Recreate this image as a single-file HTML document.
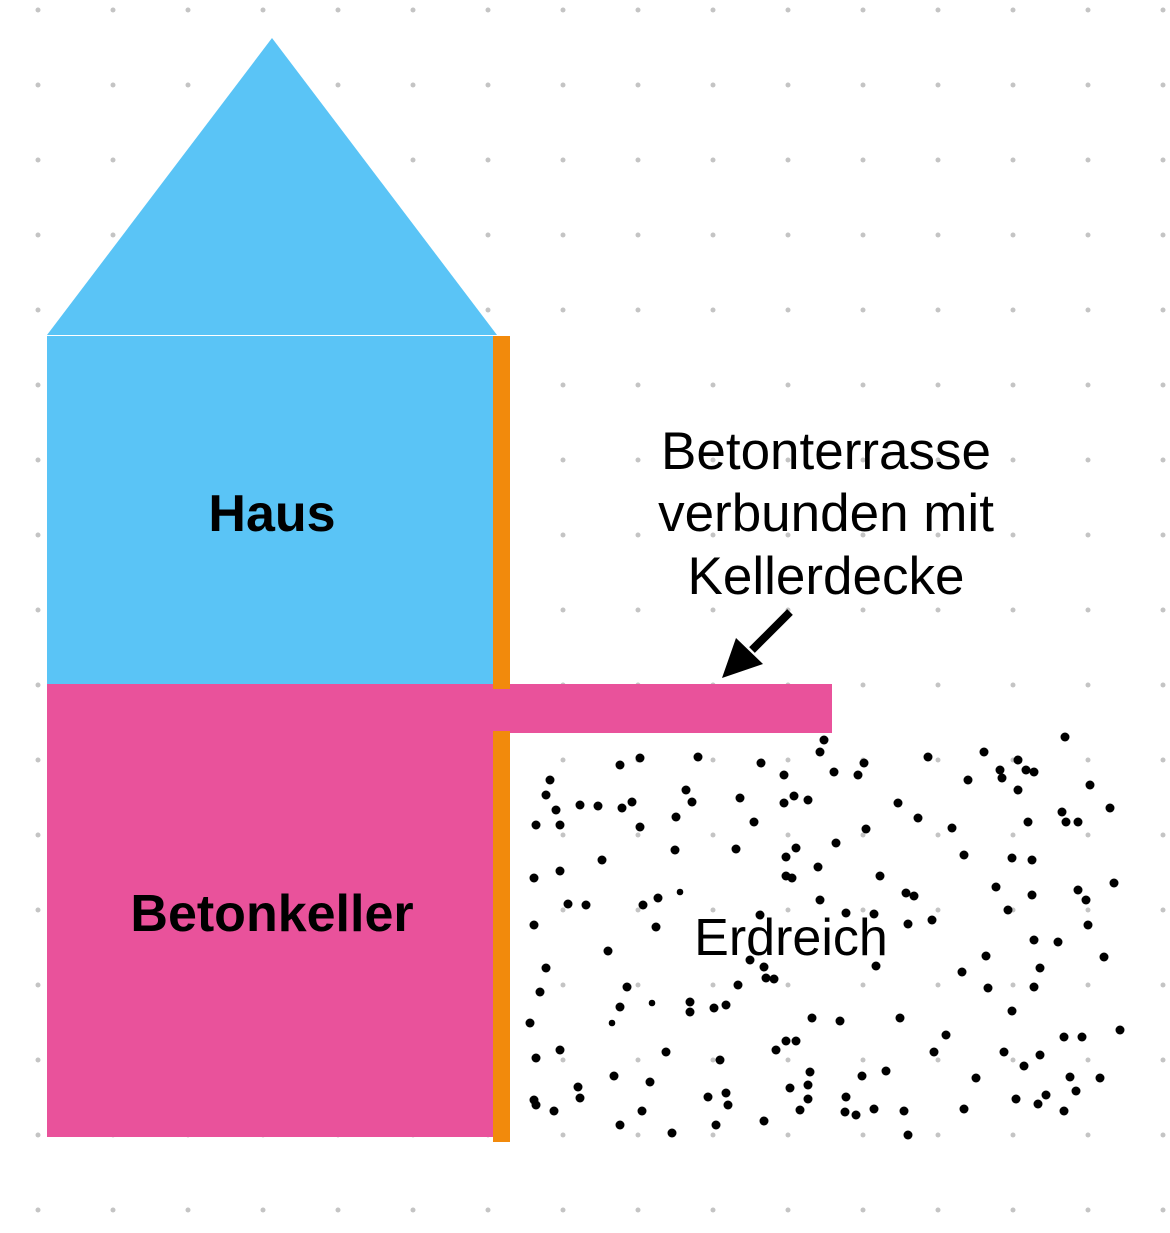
<!DOCTYPE html>
<html><head><meta charset="utf-8"><style>
html,body{margin:0;padding:0;background:#fff}
svg{display:block}
text{font-family:"Liberation Sans",sans-serif}
</style></head><body>
<svg width="1170" height="1233" viewBox="0 0 1170 1233" xmlns="http://www.w3.org/2000/svg">
<defs><pattern id="g" x="0" y="0" width="75" height="75" patternUnits="userSpaceOnUse">
<circle cx="38" cy="10" r="2.5" fill="#c4c4c4"/></pattern></defs>
<rect width="1170" height="1233" fill="url(#g)"/>
<polygon points="272,38 47,335 497,335" fill="#5ac4f6"/>
<rect x="47" y="336" width="448" height="348" fill="#5ac4f6"/>
<rect x="47" y="684" width="448" height="453" fill="#e9529b"/>
<rect x="493" y="684" width="339" height="49" fill="#e9529b"/>
<rect x="493" y="336" width="17" height="353" fill="#f28a0c"/>
<rect x="493" y="731" width="17" height="411" fill="#f28a0c"/>
<text x="272" y="531" font-size="52" font-weight="bold" text-anchor="middle">Haus</text>
<text x="272" y="931" font-size="52" font-weight="bold" text-anchor="middle">Betonkeller</text>
<g font-size="53" text-anchor="middle">
<text x="826" y="469">Betonterrasse</text>
<text x="826" y="531">verbunden mit</text>
<text x="826" y="594">Kellerdecke</text>
</g>
<line x1="790" y1="612" x2="752" y2="650" stroke="#000" stroke-width="8"/>
<polygon points="722,678 736,638 763,664" fill="#000"/>
<g fill="#000" transform="translate(0,0)">
<g style="transform-box:fill-box">
<circle cx="824" cy="740" r="4.5"/><circle cx="820" cy="752" r="4.5"/><circle cx="640" cy="758" r="4.5"/><circle cx="620" cy="765" r="4.5"/><circle cx="698" cy="757" r="4.5"/><circle cx="761" cy="763" r="4.5"/><circle cx="784" cy="775" r="4.5"/><circle cx="834" cy="772" r="4.5"/><circle cx="858" cy="775" r="4.5"/><circle cx="864" cy="763" r="4.5"/><circle cx="928" cy="757" r="4.5"/><circle cx="984" cy="752" r="4.5"/><circle cx="1018" cy="760" r="4.5"/><circle cx="1026" cy="770" r="4.5"/><circle cx="1034" cy="772" r="4.5"/><circle cx="1065" cy="737" r="4.5"/><circle cx="1000" cy="770" r="4.5"/><circle cx="1002" cy="778" r="4.5"/><circle cx="968" cy="780" r="4.5"/><circle cx="550" cy="780" r="4.5"/><circle cx="546" cy="795" r="4.5"/><circle cx="536" cy="825" r="4.5"/><circle cx="560" cy="825" r="4.5"/><circle cx="556" cy="810" r="4.5"/><circle cx="580" cy="805" r="4.5"/><circle cx="598" cy="806" r="4.5"/><circle cx="622" cy="808" r="4.5"/><circle cx="632" cy="802" r="4.5"/><circle cx="640" cy="827" r="4.5"/><circle cx="686" cy="790" r="4.5"/><circle cx="692" cy="802" r="4.5"/><circle cx="676" cy="817" r="4.5"/><circle cx="740" cy="798" r="4.5"/><circle cx="754" cy="822" r="4.5"/><circle cx="784" cy="803" r="4.5"/><circle cx="794" cy="796" r="4.5"/><circle cx="808" cy="800" r="4.5"/><circle cx="898" cy="803" r="4.5"/><circle cx="918" cy="818" r="4.5"/><circle cx="952" cy="828" r="4.5"/><circle cx="1018" cy="790" r="4.5"/><circle cx="1028" cy="822" r="4.5"/><circle cx="1062" cy="812" r="4.5"/><circle cx="1066" cy="822" r="4.5"/><circle cx="1078" cy="822" r="4.5"/><circle cx="1090" cy="785" r="4.5"/><circle cx="1110" cy="808" r="4.5"/><circle cx="534" cy="878" r="4.5"/><circle cx="560" cy="871" r="4.5"/><circle cx="602" cy="860" r="4.5"/><circle cx="675" cy="850" r="4.5"/><circle cx="736" cy="849" r="4.5"/><circle cx="786" cy="857" r="4.5"/><circle cx="796" cy="848" r="4.5"/><circle cx="786" cy="876" r="4.5"/><circle cx="792" cy="878" r="4.5"/><circle cx="818" cy="867" r="4.5"/><circle cx="836" cy="843" r="4.5"/><circle cx="866" cy="829" r="4.5"/><circle cx="880" cy="876" r="4.5"/><circle cx="964" cy="855" r="4.5"/><circle cx="1012" cy="858" r="4.5"/><circle cx="1032" cy="860" r="4.5"/><circle cx="996" cy="887" r="4.5"/><circle cx="1008" cy="910" r="4.5"/><circle cx="1032" cy="895" r="4.5"/><circle cx="1078" cy="890" r="4.5"/><circle cx="1086" cy="900" r="4.5"/><circle cx="1114" cy="883" r="4.5"/><circle cx="1088" cy="925" r="4.5"/><circle cx="534" cy="925" r="4.5"/><circle cx="568" cy="904" r="4.5"/><circle cx="586" cy="905" r="4.5"/><circle cx="643" cy="905" r="4.5"/><circle cx="658" cy="898" r="4.5"/><circle cx="680" cy="892" r="3.3"/><circle cx="656" cy="927" r="4.5"/><circle cx="760" cy="915" r="4.5"/><circle cx="820" cy="900" r="4.5"/><circle cx="846" cy="913" r="4.5"/><circle cx="906" cy="893" r="4.5"/><circle cx="914" cy="896" r="4.5"/><circle cx="874" cy="914" r="4.5"/><circle cx="908" cy="924" r="4.5"/><circle cx="932" cy="920" r="4.5"/><circle cx="1034" cy="940" r="4.5"/><circle cx="1058" cy="942" r="4.5"/><circle cx="1104" cy="957" r="4.5"/><circle cx="546" cy="968" r="4.5"/><circle cx="608" cy="951" r="4.5"/><circle cx="540" cy="992" r="4.5"/><circle cx="627" cy="987" r="4.5"/><circle cx="652" cy="1003" r="3.3"/><circle cx="620" cy="1007" r="4.5"/><circle cx="690" cy="1002" r="4.5"/><circle cx="690" cy="1012" r="4.5"/><circle cx="714" cy="1008" r="4.5"/><circle cx="726" cy="1005" r="4.5"/><circle cx="750" cy="960" r="4.5"/><circle cx="764" cy="967" r="4.5"/><circle cx="766" cy="978" r="4.5"/><circle cx="774" cy="979" r="4.5"/><circle cx="738" cy="985" r="4.5"/><circle cx="876" cy="966" r="4.5"/><circle cx="962" cy="972" r="4.5"/><circle cx="986" cy="956" r="4.5"/><circle cx="1040" cy="968" r="4.5"/><circle cx="988" cy="988" r="4.5"/><circle cx="1034" cy="987" r="4.5"/><circle cx="1012" cy="1011" r="4.5"/><circle cx="530" cy="1023" r="4.5"/><circle cx="612" cy="1023" r="3.3"/><circle cx="812" cy="1018" r="4.5"/><circle cx="840" cy="1021" r="4.5"/><circle cx="900" cy="1018" r="4.5"/><circle cx="1120" cy="1030" r="4.5"/><circle cx="1064" cy="1037" r="4.5"/><circle cx="1082" cy="1037" r="4.5"/><circle cx="560" cy="1050" r="4.5"/><circle cx="536" cy="1058" r="4.5"/><circle cx="666" cy="1052" r="4.5"/><circle cx="720" cy="1060" r="4.5"/><circle cx="776" cy="1050" r="4.5"/><circle cx="786" cy="1041" r="4.5"/><circle cx="796" cy="1041" r="4.5"/><circle cx="934" cy="1052" r="4.5"/><circle cx="946" cy="1035" r="4.5"/><circle cx="1004" cy="1052" r="4.5"/><circle cx="1024" cy="1066" r="4.5"/><circle cx="1040" cy="1055" r="4.5"/><circle cx="614" cy="1076" r="4.5"/><circle cx="650" cy="1082" r="4.5"/><circle cx="578" cy="1087" r="4.5"/><circle cx="580" cy="1098" r="4.5"/><circle cx="534" cy="1100" r="4.5"/><circle cx="536" cy="1105" r="4.5"/><circle cx="554" cy="1111" r="4.5"/><circle cx="620" cy="1125" r="4.5"/><circle cx="642" cy="1111" r="4.5"/><circle cx="672" cy="1133" r="4.5"/><circle cx="708" cy="1097" r="4.5"/><circle cx="726" cy="1093" r="4.5"/><circle cx="728" cy="1105" r="4.5"/><circle cx="716" cy="1125" r="4.5"/><circle cx="764" cy="1121" r="4.5"/><circle cx="790" cy="1088" r="4.5"/><circle cx="808" cy="1085" r="4.5"/><circle cx="810" cy="1072" r="4.5"/><circle cx="808" cy="1099" r="4.5"/><circle cx="800" cy="1110" r="4.5"/><circle cx="846" cy="1097" r="4.5"/><circle cx="862" cy="1076" r="4.5"/><circle cx="886" cy="1071" r="4.5"/><circle cx="845" cy="1112" r="4.5"/><circle cx="856" cy="1115" r="4.5"/><circle cx="874" cy="1109" r="4.5"/><circle cx="904" cy="1111" r="4.5"/><circle cx="908" cy="1135" r="4.5"/><circle cx="964" cy="1109" r="4.5"/><circle cx="976" cy="1078" r="4.5"/><circle cx="1016" cy="1099" r="4.5"/><circle cx="1038" cy="1104" r="4.5"/><circle cx="1046" cy="1095" r="4.5"/><circle cx="1064" cy="1111" r="4.5"/><circle cx="1070" cy="1077" r="4.5"/><circle cx="1076" cy="1091" r="4.5"/><circle cx="1100" cy="1078" r="4.5"/>
</g>
</g>
<text x="791" y="955" font-size="52" text-anchor="middle">Erdreich</text>
</svg>
</body></html>
